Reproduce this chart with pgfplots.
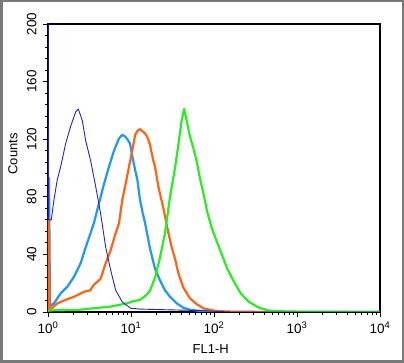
\documentclass[border=0pt]{standalone}
\usepackage{fontspec}
\setmainfont{Liberation Sans}
\usepackage{pgfplots}
\pgfplotsset{compat=1.18}
\definecolor{navyc}{RGB}{35,35,190}
\definecolor{lblue}{RGB}{30,150,250}
\definecolor{orng}{RGB}{255,100,20}
\definecolor{grn}{RGB}{40,240,30}
\definecolor{framec}{RGB}{120,120,120}
\begin{document}
\begin{tikzpicture}[x=1pt,y=1pt]
\useasboundingbox (0,0) rectangle (404,363);
\draw[framec, line width=2.5pt] (1.25,1.25) rectangle (402.75,361.75);
\begin{axis}[
 at={(48pt,51pt)}, anchor=south west,
 scale only axis, width=332pt, height=288pt,
 xmin=0, xmax=4, ymin=0, ymax=200,
 axis line style={line width=1.3pt},
 tick align=outside, tick pos=left,
 xtick={0,1,2,3,4},
 xticklabels={10\textsuperscript{0},10\textsuperscript{1},10\textsuperscript{2},10\textsuperscript{3},10\textsuperscript{4}},
 minor xtick={0.30103,0.47712,0.60206,0.69897,0.77815,0.84510,0.90309,0.95424,
   1.30103,1.47712,1.60206,1.69897,1.77815,1.84510,1.90309,1.95424,
   2.30103,2.47712,2.60206,2.69897,2.77815,2.84510,2.90309,2.95424,
   3.30103,3.47712,3.60206,3.69897,3.77815,3.84510,3.90309,3.95424},
 ytick={0,40,80,120,160,200},
 minor y tick num=4,
 major tick length=5pt, minor tick length=3pt,
 tick style={black, line width=0.9pt},
 tick label style={font=\fontsize{13.5}{15}\selectfont},
 yticklabel style={rotate=90, anchor=south},
 yticklabel shift=3pt,
 xticklabel shift=1pt,
 /pgf/number format/assume math mode=true,
 xlabel={FL1-H}, ylabel={Counts},
 label style={font=\fontsize{13}{15}\selectfont},
 xlabel style={at={(axis description cs:0.49,-0.1285)}, anchor=center},
 ylabel style={at={(axis description cs:-0.1054,0.549)}, anchor=center},
 every axis plot/.append style={line join=round},
]
% light blue
\addplot[lblue, line width=2.2pt] coordinates {
(0,0) (0,93) (0.012,93) (0.024,4) (0.072,6) (0.153,13) (0.233,17.6) (0.313,24.5)
(0.394,34) (0.454,45) (0.514,55) (0.554,62) (0.614,75.5) (0.675,89) (0.735,101)
(0.795,112) (0.855,120.5) (0.895,123) (0.928,122) (0.955,120) (0.988,117)
(1.016,108) (1.048,99) (1.076,92) (1.108,78) (1.136,70) (1.169,62) (1.229,44)
(1.289,30) (1.349,22) (1.41,15) (1.47,10.6) (1.551,6) (1.63,3) (1.711,1.5)
(1.831,0.8) (2.01,0.3) (2.2,0) (4,0)};
% orange
\addplot[orng, line width=2.2pt] coordinates {
(0,0) (0,66) (0.012,66) (0.02,2) (0.036,2) (0.112,6) (0.193,8) (0.313,10.6)
(0.434,14) (0.506,15) (0.554,19) (0.633,23) (0.695,34) (0.755,43) (0.816,55)
(0.855,61.6) (0.895,78) (0.935,89) (0.976,101) (1.016,112.5) (1.05,123)
(1.08,126) (1.108,127) (1.15,125) (1.169,124) (1.20,121) (1.229,116) (1.265,106)
(1.289,101) (1.33,87) (1.39,72) (1.45,55) (1.49,45) (1.53,37) (1.57,27)
(1.63,17) (1.71,9.5) (1.79,5.5) (1.87,2.6) (1.99,1) (2.15,0.3) (2.5,0.1) (4,0)};
% green
\addplot[grn, line width=2.2pt] coordinates {
(0,1) (0.1,1.2) (0.35,1.4) (0.55,2.6) (0.75,3.7) (0.95,6) (1.0,7) (1.11,8.5)
(1.19,12) (1.23,15) (1.29,24) (1.35,38) (1.41,55) (1.47,80) (1.53,100)
(1.57,116) (1.61,133) (1.64,141) (1.67,133) (1.71,122) (1.75,114) (1.79,105)
(1.83,93) (1.87,83) (1.92,69) (1.98,57) (2.04,48) (2.10,39) (2.16,30)
(2.24,21) (2.32,13) (2.42,7) (2.54,3) (2.66,1) (2.9,0.3) (4,0)};
% navy
\addplot[navyc, line width=0.9pt] coordinates {
(0,300) (0.005,64) (0.04,64) (0.072,78) (0.112,92) (0.153,101) (0.213,117)
(0.273,129) (0.334,139) (0.365,141) (0.413,133) (0.454,119) (0.514,105)
(0.575,87) (0.635,68) (0.695,45) (0.755,29) (0.816,15) (0.895,7) (0.996,2.6)
(1.117,2) (1.47,1.5) (1.83,1) (2.0,0.5) (2.2,0) (4,0)};
\end{axis}
\end{tikzpicture}
\end{document}
